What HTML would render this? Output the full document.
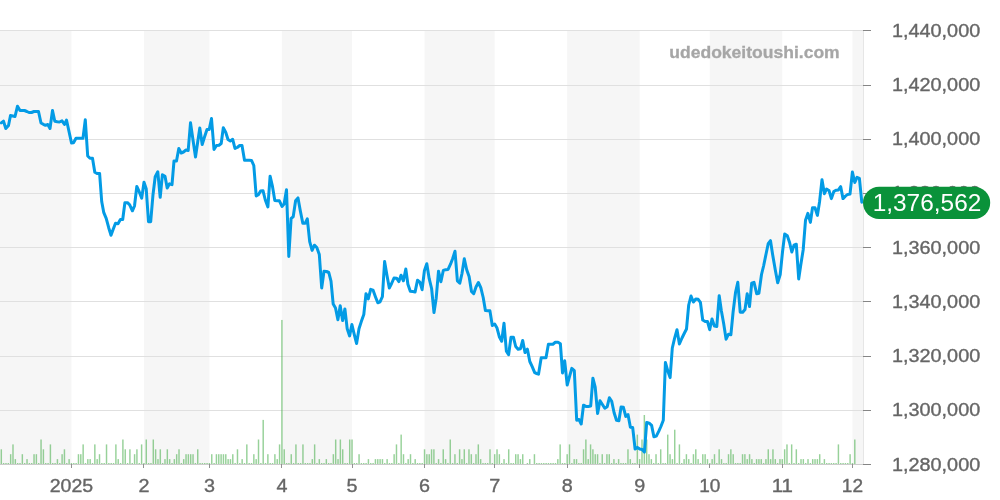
<!DOCTYPE html>
<html><head><meta charset="utf-8"><title>chart</title>
<style>html,body{margin:0;padding:0;background:#fff;overflow:hidden}body{width:1000px;height:500px;font-family:"Liberation Sans",sans-serif}</style>
</head><body>
<svg width="1000" height="500" viewBox="0 0 1000 500" style="display:block;will-change:transform;opacity:0.999">
<rect width="1000" height="500" fill="#ffffff"/>
<rect x="0.00" y="30" width="71.45" height="434.5" fill="#f6f6f6"/>
<rect x="143.94" y="30" width="65.47" height="434.5" fill="#f6f6f6"/>
<rect x="281.90" y="30" width="70.15" height="434.5" fill="#f6f6f6"/>
<rect x="424.53" y="30" width="70.15" height="434.5" fill="#f6f6f6"/>
<rect x="567.17" y="30" width="72.49" height="434.5" fill="#f6f6f6"/>
<rect x="709.80" y="30" width="72.49" height="434.5" fill="#f6f6f6"/>
<rect x="852.44" y="30" width="10.56" height="434.5" fill="#f6f6f6"/>
<rect x="0" y="30" width="863.5" height="1" fill="#e0e0e0"/>
<rect x="0" y="85" width="863.5" height="1" fill="#e0e0e0"/>
<rect x="0" y="139" width="863.5" height="1" fill="#e0e0e0"/>
<rect x="0" y="193" width="863.5" height="1" fill="#e0e0e0"/>
<rect x="0" y="247" width="863.5" height="1" fill="#e0e0e0"/>
<rect x="0" y="301" width="863.5" height="1" fill="#e0e0e0"/>
<rect x="0" y="356" width="863.5" height="1" fill="#e0e0e0"/>
<rect x="0" y="410" width="863.5" height="1" fill="#e0e0e0"/>
<g fill="#4caf50" fill-opacity="0.58"><rect x="0.58" y="449.30" width="1.45" height="14.70"/><rect x="2.92" y="463.00" width="1.45" height="1.00"/><rect x="5.26" y="463.00" width="1.45" height="1.00"/><rect x="7.59" y="463.00" width="1.45" height="1.00"/><rect x="9.93" y="454.20" width="1.45" height="9.80"/><rect x="12.27" y="444.40" width="1.45" height="19.60"/><rect x="14.61" y="459.10" width="1.45" height="4.90"/><rect x="16.95" y="463.00" width="1.45" height="1.00"/><rect x="19.29" y="463.00" width="1.45" height="1.00"/><rect x="21.62" y="454.20" width="1.45" height="9.80"/><rect x="23.96" y="463.00" width="1.45" height="1.00"/><rect x="26.30" y="459.10" width="1.45" height="4.90"/><rect x="28.64" y="463.00" width="1.45" height="1.00"/><rect x="30.98" y="463.00" width="1.45" height="1.00"/><rect x="33.32" y="454.20" width="1.45" height="9.80"/><rect x="35.65" y="454.20" width="1.45" height="9.80"/><rect x="37.99" y="463.00" width="1.45" height="1.00"/><rect x="40.33" y="439.50" width="1.45" height="24.50"/><rect x="42.67" y="449.30" width="1.45" height="14.70"/><rect x="45.01" y="463.00" width="1.45" height="1.00"/><rect x="47.35" y="463.00" width="1.45" height="1.00"/><rect x="49.68" y="444.40" width="1.45" height="19.60"/><rect x="52.02" y="463.00" width="1.45" height="1.00"/><rect x="54.36" y="463.00" width="1.45" height="1.00"/><rect x="56.70" y="459.10" width="1.45" height="4.90"/><rect x="59.04" y="463.00" width="1.45" height="1.00"/><rect x="61.38" y="454.20" width="1.45" height="9.80"/><rect x="63.71" y="449.30" width="1.45" height="14.70"/><rect x="66.05" y="463.00" width="1.45" height="1.00"/><rect x="68.39" y="459.10" width="1.45" height="4.90"/><rect x="70.73" y="463.00" width="1.45" height="1.00"/><rect x="73.07" y="463.00" width="1.45" height="1.00"/><rect x="75.41" y="463.00" width="1.45" height="1.00"/><rect x="77.74" y="454.20" width="1.45" height="9.80"/><rect x="80.08" y="454.20" width="1.45" height="9.80"/><rect x="82.42" y="444.40" width="1.45" height="19.60"/><rect x="84.76" y="463.00" width="1.45" height="1.00"/><rect x="87.10" y="459.10" width="1.45" height="4.90"/><rect x="89.44" y="459.10" width="1.45" height="4.90"/><rect x="91.77" y="463.00" width="1.45" height="1.00"/><rect x="94.11" y="444.40" width="1.45" height="19.60"/><rect x="96.45" y="459.10" width="1.45" height="4.90"/><rect x="98.79" y="454.20" width="1.45" height="9.80"/><rect x="101.13" y="463.00" width="1.45" height="1.00"/><rect x="103.47" y="463.00" width="1.45" height="1.00"/><rect x="105.80" y="444.40" width="1.45" height="19.60"/><rect x="108.14" y="463.00" width="1.45" height="1.00"/><rect x="110.48" y="463.00" width="1.45" height="1.00"/><rect x="112.82" y="463.00" width="1.45" height="1.00"/><rect x="115.16" y="444.40" width="1.45" height="19.60"/><rect x="117.49" y="459.10" width="1.45" height="4.90"/><rect x="119.83" y="463.00" width="1.45" height="1.00"/><rect x="122.17" y="439.50" width="1.45" height="24.50"/><rect x="124.51" y="449.30" width="1.45" height="14.70"/><rect x="126.85" y="463.00" width="1.45" height="1.00"/><rect x="129.19" y="449.30" width="1.45" height="14.70"/><rect x="131.52" y="463.00" width="1.45" height="1.00"/><rect x="133.86" y="454.20" width="1.45" height="9.80"/><rect x="136.20" y="449.30" width="1.45" height="14.70"/><rect x="138.54" y="463.00" width="1.45" height="1.00"/><rect x="140.88" y="444.40" width="1.45" height="19.60"/><rect x="143.22" y="463.00" width="1.45" height="1.00"/><rect x="145.55" y="439.50" width="1.45" height="24.50"/><rect x="147.89" y="463.00" width="1.45" height="1.00"/><rect x="150.23" y="463.00" width="1.45" height="1.00"/><rect x="152.57" y="439.50" width="1.45" height="24.50"/><rect x="154.91" y="449.30" width="1.45" height="14.70"/><rect x="157.25" y="459.10" width="1.45" height="4.90"/><rect x="159.58" y="449.30" width="1.45" height="14.70"/><rect x="161.92" y="463.00" width="1.45" height="1.00"/><rect x="164.26" y="459.10" width="1.45" height="4.90"/><rect x="166.60" y="449.30" width="1.45" height="14.70"/><rect x="168.94" y="459.10" width="1.45" height="4.90"/><rect x="171.28" y="463.00" width="1.45" height="1.00"/><rect x="173.61" y="459.10" width="1.45" height="4.90"/><rect x="175.95" y="454.20" width="1.45" height="9.80"/><rect x="178.29" y="449.30" width="1.45" height="14.70"/><rect x="180.63" y="463.00" width="1.45" height="1.00"/><rect x="182.97" y="459.10" width="1.45" height="4.90"/><rect x="185.31" y="454.20" width="1.45" height="9.80"/><rect x="187.64" y="454.20" width="1.45" height="9.80"/><rect x="189.98" y="454.20" width="1.45" height="9.80"/><rect x="192.32" y="454.20" width="1.45" height="9.80"/><rect x="194.66" y="463.00" width="1.45" height="1.00"/><rect x="197.00" y="449.30" width="1.45" height="14.70"/><rect x="199.34" y="463.00" width="1.45" height="1.00"/><rect x="201.67" y="463.00" width="1.45" height="1.00"/><rect x="204.01" y="463.00" width="1.45" height="1.00"/><rect x="206.35" y="463.00" width="1.45" height="1.00"/><rect x="208.69" y="463.00" width="1.45" height="1.00"/><rect x="211.03" y="454.20" width="1.45" height="9.80"/><rect x="213.37" y="463.00" width="1.45" height="1.00"/><rect x="215.70" y="454.20" width="1.45" height="9.80"/><rect x="218.04" y="454.20" width="1.45" height="9.80"/><rect x="220.38" y="454.20" width="1.45" height="9.80"/><rect x="222.72" y="454.20" width="1.45" height="9.80"/><rect x="225.06" y="454.20" width="1.45" height="9.80"/><rect x="227.40" y="459.10" width="1.45" height="4.90"/><rect x="229.73" y="459.10" width="1.45" height="4.90"/><rect x="232.07" y="454.20" width="1.45" height="9.80"/><rect x="234.41" y="463.00" width="1.45" height="1.00"/><rect x="236.75" y="449.30" width="1.45" height="14.70"/><rect x="239.09" y="463.00" width="1.45" height="1.00"/><rect x="241.42" y="459.10" width="1.45" height="4.90"/><rect x="243.76" y="463.00" width="1.45" height="1.00"/><rect x="246.10" y="444.40" width="1.45" height="19.60"/><rect x="248.44" y="463.00" width="1.45" height="1.00"/><rect x="250.78" y="463.00" width="1.45" height="1.00"/><rect x="253.12" y="454.20" width="1.45" height="9.80"/><rect x="255.45" y="459.10" width="1.45" height="4.90"/><rect x="257.79" y="439.50" width="1.45" height="24.50"/><rect x="260.13" y="463.00" width="1.45" height="1.00"/><rect x="262.47" y="419.90" width="1.45" height="44.10"/><rect x="264.81" y="463.00" width="1.45" height="1.00"/><rect x="267.15" y="454.20" width="1.45" height="9.80"/><rect x="269.48" y="463.00" width="1.45" height="1.00"/><rect x="271.82" y="463.00" width="1.45" height="1.00"/><rect x="274.16" y="454.20" width="1.45" height="9.80"/><rect x="276.50" y="459.10" width="1.45" height="4.90"/><rect x="278.84" y="444.40" width="1.45" height="19.60"/><rect x="281.18" y="319.94" width="1.45" height="144.06"/><rect x="283.51" y="449.30" width="1.45" height="14.70"/><rect x="285.85" y="463.00" width="1.45" height="1.00"/><rect x="288.19" y="463.00" width="1.45" height="1.00"/><rect x="290.53" y="454.20" width="1.45" height="9.80"/><rect x="292.87" y="463.00" width="1.45" height="1.00"/><rect x="295.21" y="444.40" width="1.45" height="19.60"/><rect x="297.54" y="463.00" width="1.45" height="1.00"/><rect x="299.88" y="463.00" width="1.45" height="1.00"/><rect x="302.22" y="444.40" width="1.45" height="19.60"/><rect x="304.56" y="463.00" width="1.45" height="1.00"/><rect x="306.90" y="463.00" width="1.45" height="1.00"/><rect x="309.24" y="463.00" width="1.45" height="1.00"/><rect x="311.57" y="459.10" width="1.45" height="4.90"/><rect x="313.91" y="444.40" width="1.45" height="19.60"/><rect x="316.25" y="463.00" width="1.45" height="1.00"/><rect x="318.59" y="459.10" width="1.45" height="4.90"/><rect x="320.93" y="463.00" width="1.45" height="1.00"/><rect x="323.27" y="463.00" width="1.45" height="1.00"/><rect x="325.60" y="459.10" width="1.45" height="4.90"/><rect x="327.94" y="463.00" width="1.45" height="1.00"/><rect x="330.28" y="463.00" width="1.45" height="1.00"/><rect x="332.62" y="454.20" width="1.45" height="9.80"/><rect x="334.96" y="439.50" width="1.45" height="24.50"/><rect x="337.30" y="459.10" width="1.45" height="4.90"/><rect x="339.63" y="439.50" width="1.45" height="24.50"/><rect x="341.97" y="449.30" width="1.45" height="14.70"/><rect x="344.31" y="463.00" width="1.45" height="1.00"/><rect x="346.65" y="463.00" width="1.45" height="1.00"/><rect x="348.99" y="439.50" width="1.45" height="24.50"/><rect x="351.32" y="439.50" width="1.45" height="24.50"/><rect x="353.66" y="463.00" width="1.45" height="1.00"/><rect x="356.00" y="463.00" width="1.45" height="1.00"/><rect x="358.34" y="454.20" width="1.45" height="9.80"/><rect x="360.68" y="463.00" width="1.45" height="1.00"/><rect x="363.02" y="463.00" width="1.45" height="1.00"/><rect x="365.35" y="463.00" width="1.45" height="1.00"/><rect x="367.69" y="459.10" width="1.45" height="4.90"/><rect x="370.03" y="463.00" width="1.45" height="1.00"/><rect x="372.37" y="463.00" width="1.45" height="1.00"/><rect x="374.71" y="459.10" width="1.45" height="4.90"/><rect x="377.05" y="459.10" width="1.45" height="4.90"/><rect x="379.38" y="459.10" width="1.45" height="4.90"/><rect x="381.72" y="459.10" width="1.45" height="4.90"/><rect x="384.06" y="463.00" width="1.45" height="1.00"/><rect x="386.40" y="459.10" width="1.45" height="4.90"/><rect x="388.74" y="463.00" width="1.45" height="1.00"/><rect x="391.08" y="463.00" width="1.45" height="1.00"/><rect x="393.41" y="454.20" width="1.45" height="9.80"/><rect x="395.75" y="444.40" width="1.45" height="19.60"/><rect x="398.09" y="463.00" width="1.45" height="1.00"/><rect x="400.43" y="434.60" width="1.45" height="29.40"/><rect x="402.77" y="454.20" width="1.45" height="9.80"/><rect x="405.11" y="463.00" width="1.45" height="1.00"/><rect x="407.44" y="459.10" width="1.45" height="4.90"/><rect x="409.78" y="454.20" width="1.45" height="9.80"/><rect x="412.12" y="463.00" width="1.45" height="1.00"/><rect x="414.46" y="459.10" width="1.45" height="4.90"/><rect x="416.80" y="463.00" width="1.45" height="1.00"/><rect x="419.14" y="463.00" width="1.45" height="1.00"/><rect x="421.47" y="463.00" width="1.45" height="1.00"/><rect x="423.81" y="449.30" width="1.45" height="14.70"/><rect x="426.15" y="454.20" width="1.45" height="9.80"/><rect x="428.49" y="454.20" width="1.45" height="9.80"/><rect x="430.83" y="449.30" width="1.45" height="14.70"/><rect x="433.17" y="449.30" width="1.45" height="14.70"/><rect x="435.50" y="463.00" width="1.45" height="1.00"/><rect x="437.84" y="459.10" width="1.45" height="4.90"/><rect x="440.18" y="463.00" width="1.45" height="1.00"/><rect x="442.52" y="449.30" width="1.45" height="14.70"/><rect x="444.86" y="459.10" width="1.45" height="4.90"/><rect x="447.20" y="463.00" width="1.45" height="1.00"/><rect x="449.53" y="439.50" width="1.45" height="24.50"/><rect x="451.87" y="463.00" width="1.45" height="1.00"/><rect x="454.21" y="454.20" width="1.45" height="9.80"/><rect x="456.55" y="463.00" width="1.45" height="1.00"/><rect x="458.89" y="449.30" width="1.45" height="14.70"/><rect x="461.23" y="459.10" width="1.45" height="4.90"/><rect x="463.56" y="449.30" width="1.45" height="14.70"/><rect x="465.90" y="463.00" width="1.45" height="1.00"/><rect x="468.24" y="449.30" width="1.45" height="14.70"/><rect x="470.58" y="454.20" width="1.45" height="9.80"/><rect x="472.92" y="463.00" width="1.45" height="1.00"/><rect x="475.25" y="454.20" width="1.45" height="9.80"/><rect x="477.59" y="444.40" width="1.45" height="19.60"/><rect x="479.93" y="459.10" width="1.45" height="4.90"/><rect x="482.27" y="463.00" width="1.45" height="1.00"/><rect x="484.61" y="463.00" width="1.45" height="1.00"/><rect x="486.95" y="463.00" width="1.45" height="1.00"/><rect x="489.28" y="449.30" width="1.45" height="14.70"/><rect x="491.62" y="463.00" width="1.45" height="1.00"/><rect x="493.96" y="454.20" width="1.45" height="9.80"/><rect x="496.30" y="449.30" width="1.45" height="14.70"/><rect x="498.64" y="454.20" width="1.45" height="9.80"/><rect x="500.98" y="463.00" width="1.45" height="1.00"/><rect x="503.31" y="459.10" width="1.45" height="4.90"/><rect x="505.65" y="463.00" width="1.45" height="1.00"/><rect x="507.99" y="449.30" width="1.45" height="14.70"/><rect x="510.33" y="463.00" width="1.45" height="1.00"/><rect x="512.67" y="463.00" width="1.45" height="1.00"/><rect x="515.01" y="454.20" width="1.45" height="9.80"/><rect x="517.34" y="454.20" width="1.45" height="9.80"/><rect x="519.68" y="459.10" width="1.45" height="4.90"/><rect x="522.02" y="454.20" width="1.45" height="9.80"/><rect x="526.70" y="463.00" width="1.45" height="1.00"/><rect x="529.04" y="459.10" width="1.45" height="4.90"/><rect x="533.71" y="454.20" width="1.45" height="9.80"/><rect x="536.05" y="463.00" width="1.45" height="1.00"/><rect x="538.39" y="463.00" width="1.45" height="1.00"/><rect x="540.73" y="463.00" width="1.45" height="1.00"/><rect x="543.07" y="463.00" width="1.45" height="1.00"/><rect x="545.40" y="463.00" width="1.45" height="1.00"/><rect x="547.74" y="463.00" width="1.45" height="1.00"/><rect x="550.08" y="463.00" width="1.45" height="1.00"/><rect x="552.42" y="463.00" width="1.45" height="1.00"/><rect x="554.76" y="463.00" width="1.45" height="1.00"/><rect x="557.10" y="459.10" width="1.45" height="4.90"/><rect x="559.43" y="444.40" width="1.45" height="19.60"/><rect x="561.77" y="463.00" width="1.45" height="1.00"/><rect x="564.11" y="463.00" width="1.45" height="1.00"/><rect x="566.45" y="454.20" width="1.45" height="9.80"/><rect x="568.79" y="444.40" width="1.45" height="19.60"/><rect x="571.13" y="463.00" width="1.45" height="1.00"/><rect x="573.46" y="459.10" width="1.45" height="4.90"/><rect x="575.80" y="459.10" width="1.45" height="4.90"/><rect x="578.14" y="463.00" width="1.45" height="1.00"/><rect x="580.48" y="463.00" width="1.45" height="1.00"/><rect x="582.82" y="449.30" width="1.45" height="14.70"/><rect x="585.15" y="439.50" width="1.45" height="24.50"/><rect x="587.49" y="459.10" width="1.45" height="4.90"/><rect x="589.83" y="444.40" width="1.45" height="19.60"/><rect x="592.17" y="449.30" width="1.45" height="14.70"/><rect x="594.51" y="454.20" width="1.45" height="9.80"/><rect x="596.85" y="454.20" width="1.45" height="9.80"/><rect x="599.18" y="463.00" width="1.45" height="1.00"/><rect x="601.52" y="454.20" width="1.45" height="9.80"/><rect x="603.86" y="463.00" width="1.45" height="1.00"/><rect x="606.20" y="454.20" width="1.45" height="9.80"/><rect x="608.54" y="454.20" width="1.45" height="9.80"/><rect x="610.88" y="463.00" width="1.45" height="1.00"/><rect x="613.21" y="459.10" width="1.45" height="4.90"/><rect x="615.55" y="463.00" width="1.45" height="1.00"/><rect x="617.89" y="459.10" width="1.45" height="4.90"/><rect x="620.23" y="463.00" width="1.45" height="1.00"/><rect x="622.57" y="463.00" width="1.45" height="1.00"/><rect x="624.91" y="463.00" width="1.45" height="1.00"/><rect x="627.24" y="449.30" width="1.45" height="14.70"/><rect x="629.58" y="459.10" width="1.45" height="4.90"/><rect x="631.92" y="463.00" width="1.45" height="1.00"/><rect x="634.26" y="463.00" width="1.45" height="1.00"/><rect x="636.60" y="434.60" width="1.45" height="29.40"/><rect x="638.94" y="459.10" width="1.45" height="4.90"/><rect x="641.27" y="439.50" width="1.45" height="24.50"/><rect x="643.61" y="415.00" width="1.45" height="49.00"/><rect x="645.95" y="439.50" width="1.45" height="24.50"/><rect x="648.29" y="454.20" width="1.45" height="9.80"/><rect x="650.63" y="459.10" width="1.45" height="4.90"/><rect x="652.97" y="463.00" width="1.45" height="1.00"/><rect x="655.30" y="454.20" width="1.45" height="9.80"/><rect x="657.64" y="463.00" width="1.45" height="1.00"/><rect x="659.98" y="449.30" width="1.45" height="14.70"/><rect x="662.32" y="463.00" width="1.45" height="1.00"/><rect x="664.66" y="463.00" width="1.45" height="1.00"/><rect x="667.00" y="434.60" width="1.45" height="29.40"/><rect x="669.33" y="454.20" width="1.45" height="9.80"/><rect x="671.67" y="459.10" width="1.45" height="4.90"/><rect x="674.01" y="429.70" width="1.45" height="34.30"/><rect x="676.35" y="463.00" width="1.45" height="1.00"/><rect x="678.69" y="444.40" width="1.45" height="19.60"/><rect x="681.03" y="463.00" width="1.45" height="1.00"/><rect x="683.36" y="459.10" width="1.45" height="4.90"/><rect x="685.70" y="454.20" width="1.45" height="9.80"/><rect x="688.04" y="459.10" width="1.45" height="4.90"/><rect x="690.38" y="463.00" width="1.45" height="1.00"/><rect x="692.72" y="454.20" width="1.45" height="9.80"/><rect x="695.06" y="449.30" width="1.45" height="14.70"/><rect x="697.39" y="459.10" width="1.45" height="4.90"/><rect x="699.73" y="463.00" width="1.45" height="1.00"/><rect x="702.07" y="454.20" width="1.45" height="9.80"/><rect x="704.41" y="454.20" width="1.45" height="9.80"/><rect x="706.75" y="459.10" width="1.45" height="4.90"/><rect x="709.08" y="463.00" width="1.45" height="1.00"/><rect x="711.42" y="459.10" width="1.45" height="4.90"/><rect x="713.76" y="454.20" width="1.45" height="9.80"/><rect x="716.10" y="463.00" width="1.45" height="1.00"/><rect x="718.44" y="449.30" width="1.45" height="14.70"/><rect x="720.78" y="459.10" width="1.45" height="4.90"/><rect x="723.11" y="463.00" width="1.45" height="1.00"/><rect x="725.45" y="463.00" width="1.45" height="1.00"/><rect x="727.79" y="454.20" width="1.45" height="9.80"/><rect x="730.13" y="449.30" width="1.45" height="14.70"/><rect x="732.47" y="454.20" width="1.45" height="9.80"/><rect x="734.81" y="463.00" width="1.45" height="1.00"/><rect x="737.14" y="463.00" width="1.45" height="1.00"/><rect x="739.48" y="463.00" width="1.45" height="1.00"/><rect x="741.82" y="454.20" width="1.45" height="9.80"/><rect x="744.16" y="454.20" width="1.45" height="9.80"/><rect x="746.50" y="459.10" width="1.45" height="4.90"/><rect x="748.84" y="454.20" width="1.45" height="9.80"/><rect x="751.17" y="459.10" width="1.45" height="4.90"/><rect x="753.51" y="463.00" width="1.45" height="1.00"/><rect x="755.85" y="459.10" width="1.45" height="4.90"/><rect x="758.19" y="459.10" width="1.45" height="4.90"/><rect x="760.53" y="459.10" width="1.45" height="4.90"/><rect x="762.87" y="463.00" width="1.45" height="1.00"/><rect x="765.20" y="459.10" width="1.45" height="4.90"/><rect x="767.54" y="449.30" width="1.45" height="14.70"/><rect x="769.88" y="459.10" width="1.45" height="4.90"/><rect x="772.22" y="449.30" width="1.45" height="14.70"/><rect x="774.56" y="459.10" width="1.45" height="4.90"/><rect x="776.90" y="463.00" width="1.45" height="1.00"/><rect x="779.23" y="459.10" width="1.45" height="4.90"/><rect x="781.57" y="459.10" width="1.45" height="4.90"/><rect x="783.91" y="449.30" width="1.45" height="14.70"/><rect x="786.25" y="444.40" width="1.45" height="19.60"/><rect x="788.59" y="463.00" width="1.45" height="1.00"/><rect x="790.93" y="444.40" width="1.45" height="19.60"/><rect x="793.26" y="463.00" width="1.45" height="1.00"/><rect x="795.60" y="449.30" width="1.45" height="14.70"/><rect x="797.94" y="463.00" width="1.45" height="1.00"/><rect x="800.28" y="459.10" width="1.45" height="4.90"/><rect x="802.62" y="459.10" width="1.45" height="4.90"/><rect x="804.96" y="463.00" width="1.45" height="1.00"/><rect x="807.29" y="459.10" width="1.45" height="4.90"/><rect x="809.63" y="463.00" width="1.45" height="1.00"/><rect x="811.97" y="459.10" width="1.45" height="4.90"/><rect x="814.31" y="459.10" width="1.45" height="4.90"/><rect x="816.65" y="459.10" width="1.45" height="4.90"/><rect x="818.98" y="454.20" width="1.45" height="9.80"/><rect x="821.32" y="463.00" width="1.45" height="1.00"/><rect x="823.66" y="459.10" width="1.45" height="4.90"/><rect x="826.00" y="463.00" width="1.45" height="1.00"/><rect x="828.34" y="463.00" width="1.45" height="1.00"/><rect x="830.68" y="463.00" width="1.45" height="1.00"/><rect x="833.01" y="463.00" width="1.45" height="1.00"/><rect x="835.35" y="463.00" width="1.45" height="1.00"/><rect x="837.69" y="444.40" width="1.45" height="19.60"/><rect x="840.03" y="463.00" width="1.45" height="1.00"/><rect x="842.37" y="463.00" width="1.45" height="1.00"/><rect x="844.71" y="463.00" width="1.45" height="1.00"/><rect x="847.04" y="463.00" width="1.45" height="1.00"/><rect x="849.38" y="454.20" width="1.45" height="9.80"/><rect x="851.72" y="463.00" width="1.45" height="1.00"/><rect x="854.06" y="439.50" width="1.45" height="24.50"/></g>
<rect x="0" y="464" width="864" height="1" fill="#cccccc"/>
<rect x="863" y="30" width="1" height="435" fill="#e6e6e6"/>
<rect x="863" y="30" width="8" height="1" fill="#858585"/>
<rect x="863" y="85" width="8" height="1" fill="#858585"/>
<rect x="863" y="139" width="8" height="1" fill="#858585"/>
<rect x="863" y="193" width="8" height="1" fill="#858585"/>
<rect x="863" y="247" width="8" height="1" fill="#858585"/>
<rect x="863" y="301" width="8" height="1" fill="#858585"/>
<rect x="863" y="356" width="8" height="1" fill="#858585"/>
<rect x="863" y="410" width="8" height="1" fill="#858585"/>
<rect x="863" y="464" width="8" height="1" fill="#858585"/>
<rect x="71" y="464" width="1" height="4" fill="#929292"/>
<rect x="143" y="464" width="1" height="4" fill="#929292"/>
<rect x="209" y="464" width="1" height="4" fill="#929292"/>
<rect x="281" y="464" width="1" height="4" fill="#929292"/>
<rect x="352" y="464" width="1" height="4" fill="#929292"/>
<rect x="424" y="464" width="1" height="4" fill="#929292"/>
<rect x="494" y="464" width="1" height="4" fill="#929292"/>
<rect x="567" y="464" width="1" height="4" fill="#929292"/>
<rect x="639" y="464" width="1" height="4" fill="#929292"/>
<rect x="709" y="464" width="1" height="4" fill="#929292"/>
<rect x="782" y="464" width="1" height="4" fill="#929292"/>
<rect x="852" y="464" width="1" height="4" fill="#929292"/>
<path d="M1.2,122.9 L3.5,121.2 L5.8,128.5 L8.5,125.5 L10.5,115.5 L12.8,116.0 L15.0,116.5 L17.5,106.2 L20.0,110.5 L22.2,110.5 L24.5,110.5 L26.9,111.5 L29.0,112.5 L31.5,112.5 L34.0,111.5 L36.2,111.5 L38.5,111.5 L41.0,123.0 L43.3,124.3 L45.5,125.3 L47.8,124.5 L50.0,128.5 L52.5,110.5 L54.8,121.2 L57.3,121.7 L59.5,122.0 L62.0,120.8 L64.5,124.5 L66.5,120.0 L69.0,131.5 L71.5,143.0 L73.5,142.8 L76.0,138.2 L78.4,138.2 L80.7,138.2 L83.0,138.2 L85.3,119.8 L87.7,156.0 L90.0,158.3 L92.5,158.3 L94.8,172.2 L97.0,173.4 L99.6,173.4 L101.7,201.5 L103.8,212.7 L106.2,218.3 L108.7,227.7 L111.0,235.2 L113.2,229.2 L115.5,223.2 L118.0,223.7 L120.4,219.5 L122.7,219.5 L124.9,202.7 L127.5,202.7 L129.7,204.8 L132.4,210.8 L134.5,206.0 L136.8,186.5 L139.2,191.7 L141.7,198.2 L144.0,182.3 L146.2,188.7 L148.5,221.7 L150.7,221.7 L153.0,194.7 L155.2,176.7 L157.8,171.8 L160.2,197.3 L162.4,174.8 L165.0,176.3 L167.2,188.0 L169.5,183.8 L172.0,184.7 L174.0,161.0 L176.5,161.0 L178.8,148.5 L181.2,153.0 L183.5,152.0 L186.0,150.0 L188.2,150.5 L190.5,122.8 L193.0,140.0 L195.5,157.0 L197.7,142.0 L199.8,128.0 L202.2,144.5 L204.5,137.0 L207.0,129.5 L209.2,129.5 L211.5,118.5 L214.0,149.5 L216.5,145.5 L219.0,145.2 L221.2,143.5 L223.3,127.8 L225.8,132.5 L228.0,139.5 L230.3,141.0 L232.7,139.3 L235.0,148.5 L237.2,147.5 L239.7,145.5 L242.0,145.5 L244.5,160.2 L247.0,160.2 L249.3,160.2 L251.5,160.4 L253.8,165.5 L256.2,196.0 L258.4,194.8 L260.6,191.1 L263.0,190.7 L265.3,200.0 L267.9,206.9 L270.1,176.2 L272.4,186.0 L274.8,200.4 L277.2,200.8 L279.4,200.8 L282.0,206.4 L284.1,204.0 L286.5,189.7 L288.8,256.5 L291.1,218.4 L293.2,216.8 L295.6,200.8 L298.0,197.9 L300.4,211.2 L302.8,223.2 L305.2,223.2 L307.3,218.9 L309.7,241.6 L312.1,250.4 L314.4,245.2 L316.8,247.5 L319.3,254.5 L321.7,288.0 L324.0,271.2 L326.5,271.5 L328.8,272.5 L331.0,281.2 L333.2,304.1 L335.5,308.0 L337.9,319.7 L340.2,305.7 L342.6,320.6 L344.9,308.9 L347.2,328.8 L349.6,335.9 L351.9,324.5 L354.3,334.6 L356.6,343.5 L359.0,328.8 L361.3,321.6 L363.8,314.5 L366.0,293.7 L368.3,298.9 L370.7,289.4 L373.0,290.1 L375.5,296.9 L377.8,302.8 L380.0,301.8 L382.4,296.6 L384.6,261.5 L386.9,275.0 L389.3,288.0 L391.6,283.5 L394.0,278.0 L396.6,278.2 L398.9,281.6 L401.0,275.2 L403.4,280.8 L405.8,269.0 L407.9,284.2 L410.3,291.2 L412.7,291.5 L415.1,291.9 L417.5,280.2 L419.9,282.2 L422.1,289.7 L424.4,270.8 L426.8,263.7 L429.2,278.7 L431.6,288.5 L434.0,312.5 L436.2,298.2 L438.5,271.2 L440.9,281.7 L443.3,270.5 L445.7,269.7 L448.1,269.4 L450.5,264.2 L452.7,258.5 L455.0,251.3 L457.4,281.0 L459.8,283.2 L462.0,273.5 L464.3,258.8 L466.7,269.7 L469.1,276.5 L471.5,291.5 L473.7,293.7 L476.0,287.0 L478.4,282.5 L480.8,287.7 L483.2,297.5 L485.4,310.5 L487.6,310.7 L489.9,310.8 L492.3,325.5 L494.7,324.0 L496.9,327.7 L499.3,336.7 L501.7,341.2 L504.0,323.2 L506.4,351.3 L508.6,354.7 L511.0,337.2 L513.4,337.2 L515.7,346.5 L518.1,349.2 L520.5,348.7 L522.7,340.5 L525.0,352.5 L527.4,349.2 L529.8,361.5 L532.2,366.7 L534.7,372.7 L536.6,373.5 L538.5,374.2 L541.2,357.7 L543.6,357.7 L546.0,357.7 L548.4,344.2 L550.7,344.2 L552.9,344.2 L555.3,342.3 L558.0,342.3 L560.4,343.8 L562.5,372.9 L564.7,360.8 L567.2,385.0 L569.5,376.7 L571.8,368.4 L574.3,370.6 L576.7,420.2 L579.0,419.5 L581.2,424.0 L583.5,405.2 L585.9,406.4 L588.3,406.4 L590.7,406.0 L592.9,378.2 L595.2,387.2 L597.6,413.5 L600.0,400.7 L602.4,404.5 L604.8,408.2 L607.2,406.7 L609.4,397.7 L611.7,401.2 L614.1,412.7 L616.5,420.2 L618.9,420.7 L621.1,407.0 L623.4,407.3 L625.8,416.5 L628.0,414.5 L630.4,427.2 L632.7,427.6 L635.1,449.0 L637.4,447.4 L639.8,449.0 L642.2,449.5 L644.4,452.1 L646.7,422.4 L649.2,423.2 L651.6,425.4 L653.9,436.8 L656.3,436.1 L658.7,431.4 L660.9,426.5 L663.3,420.3 L665.4,362.5 L667.8,371.0 L670.1,377.6 L672.3,348.0 L674.5,338.7 L677.0,329.7 L679.4,344.0 L682.0,338.0 L684.2,333.5 L686.5,329.0 L688.7,305.0 L691.0,296.0 L693.4,302.0 L695.8,299.0 L698.2,299.3 L700.4,302.3 L702.7,320.0 L705.2,321.5 L707.5,321.5 L709.7,329.7 L712.0,319.0 L714.4,326.0 L716.8,326.4 L719.2,295.7 L721.4,311.0 L723.7,323.7 L726.1,339.2 L728.5,334.2 L730.9,334.7 L733.1,312.0 L735.6,292.0 L737.8,282.3 L740.2,312.2 L742.7,312.2 L745.0,309.5 L747.2,293.7 L749.5,306.5 L751.7,283.2 L754.0,282.3 L756.7,293.7 L758.9,293.2 L761.5,274.5 L763.7,265.5 L766.0,254.2 L768.2,243.7 L770.5,240.7 L772.7,255.0 L775.3,270.0 L777.7,282.7 L780.2,274.5 L782.5,252.0 L784.7,234.0 L787.3,235.8 L789.5,242.2 L791.8,252.0 L794.0,245.2 L796.3,244.2 L798.7,279.0 L800.8,264.7 L803.2,249.7 L805.5,220.3 L807.9,213.3 L810.4,222.4 L812.5,207.7 L815.0,207.7 L817.4,215.4 L819.6,201.4 L822.0,179.7 L824.4,193.7 L826.5,189.1 L829.0,190.5 L831.4,198.6 L833.8,191.6 L836.0,190.2 L838.4,189.9 L840.7,186.7 L843.0,198.6 L845.4,196.1 L847.7,194.4 L850.0,194.1 L852.4,172.0 L854.8,182.5 L857.0,177.3 L859.4,178.3 L861.8,202.2" fill="none" stroke="#039be5" stroke-width="3" stroke-linejoin="round" stroke-linecap="round"/>
<g font-family="'Liberation Sans', sans-serif" fill="#666" stroke="#666" stroke-width="0.35">
<text x="892" y="36.7" font-size="17.6" textLength="88.2" lengthAdjust="spacingAndGlyphs">1,440,000</text>
<text x="892" y="90.9" font-size="17.6" textLength="88.2" lengthAdjust="spacingAndGlyphs">1,420,000</text>
<text x="892" y="145.2" font-size="17.6" textLength="88.2" lengthAdjust="spacingAndGlyphs">1,400,000</text>
<text x="892" y="199.4" font-size="17.6" textLength="88.2" lengthAdjust="spacingAndGlyphs">1,380,000</text>
<text x="892" y="253.6" font-size="17.6" textLength="88.2" lengthAdjust="spacingAndGlyphs">1,360,000</text>
<text x="892" y="307.9" font-size="17.6" textLength="88.2" lengthAdjust="spacingAndGlyphs">1,340,000</text>
<text x="892" y="362.1" font-size="17.6" textLength="88.2" lengthAdjust="spacingAndGlyphs">1,320,000</text>
<text x="892" y="416.3" font-size="17.6" textLength="88.2" lengthAdjust="spacingAndGlyphs">1,300,000</text>
<text x="892" y="470.6" font-size="17.6" textLength="88.2" lengthAdjust="spacingAndGlyphs">1,280,000</text>
<text x="49.7" y="492" font-size="17.6" textLength="43.5" lengthAdjust="spacingAndGlyphs">2025</text>
<text x="138.4" y="492" font-size="17.6" textLength="11.0" lengthAdjust="spacingAndGlyphs">2</text>
<text x="203.9" y="492" font-size="17.6" textLength="11.0" lengthAdjust="spacingAndGlyphs">3</text>
<text x="276.4" y="492" font-size="17.6" textLength="11.0" lengthAdjust="spacingAndGlyphs">4</text>
<text x="346.5" y="492" font-size="17.6" textLength="11.0" lengthAdjust="spacingAndGlyphs">5</text>
<text x="419.0" y="492" font-size="17.6" textLength="11.0" lengthAdjust="spacingAndGlyphs">6</text>
<text x="489.2" y="492" font-size="17.6" textLength="11.0" lengthAdjust="spacingAndGlyphs">7</text>
<text x="561.7" y="492" font-size="17.6" textLength="11.0" lengthAdjust="spacingAndGlyphs">8</text>
<text x="634.2" y="492" font-size="17.6" textLength="11.0" lengthAdjust="spacingAndGlyphs">9</text>
<text x="699.2" y="492" font-size="17.6" textLength="21.2" lengthAdjust="spacingAndGlyphs">10</text>
<text x="771.7" y="492" font-size="17.6" textLength="21.2" lengthAdjust="spacingAndGlyphs">11</text>
<text x="841.8" y="492" font-size="17.6" textLength="21.2" lengthAdjust="spacingAndGlyphs">12</text>
</g>
<text x="669.3" y="58.2" font-family="'Liberation Sans', sans-serif" font-weight="bold" font-size="16.8" fill="#a6a6a6" stroke="#a6a6a6" stroke-width="0.3" textLength="170.4" lengthAdjust="spacingAndGlyphs">udedokeitoushi.com</text>
<rect x="863" y="186.7" width="127.2" height="32.2" rx="16.1" ry="16.1" fill="#0a923a"/>
<text x="872.7" y="210.9" font-family="'Liberation Sans', sans-serif" font-size="23" fill="#ffffff" textLength="108.6" lengthAdjust="spacingAndGlyphs">1,376,562</text>
</svg>
</body></html>
